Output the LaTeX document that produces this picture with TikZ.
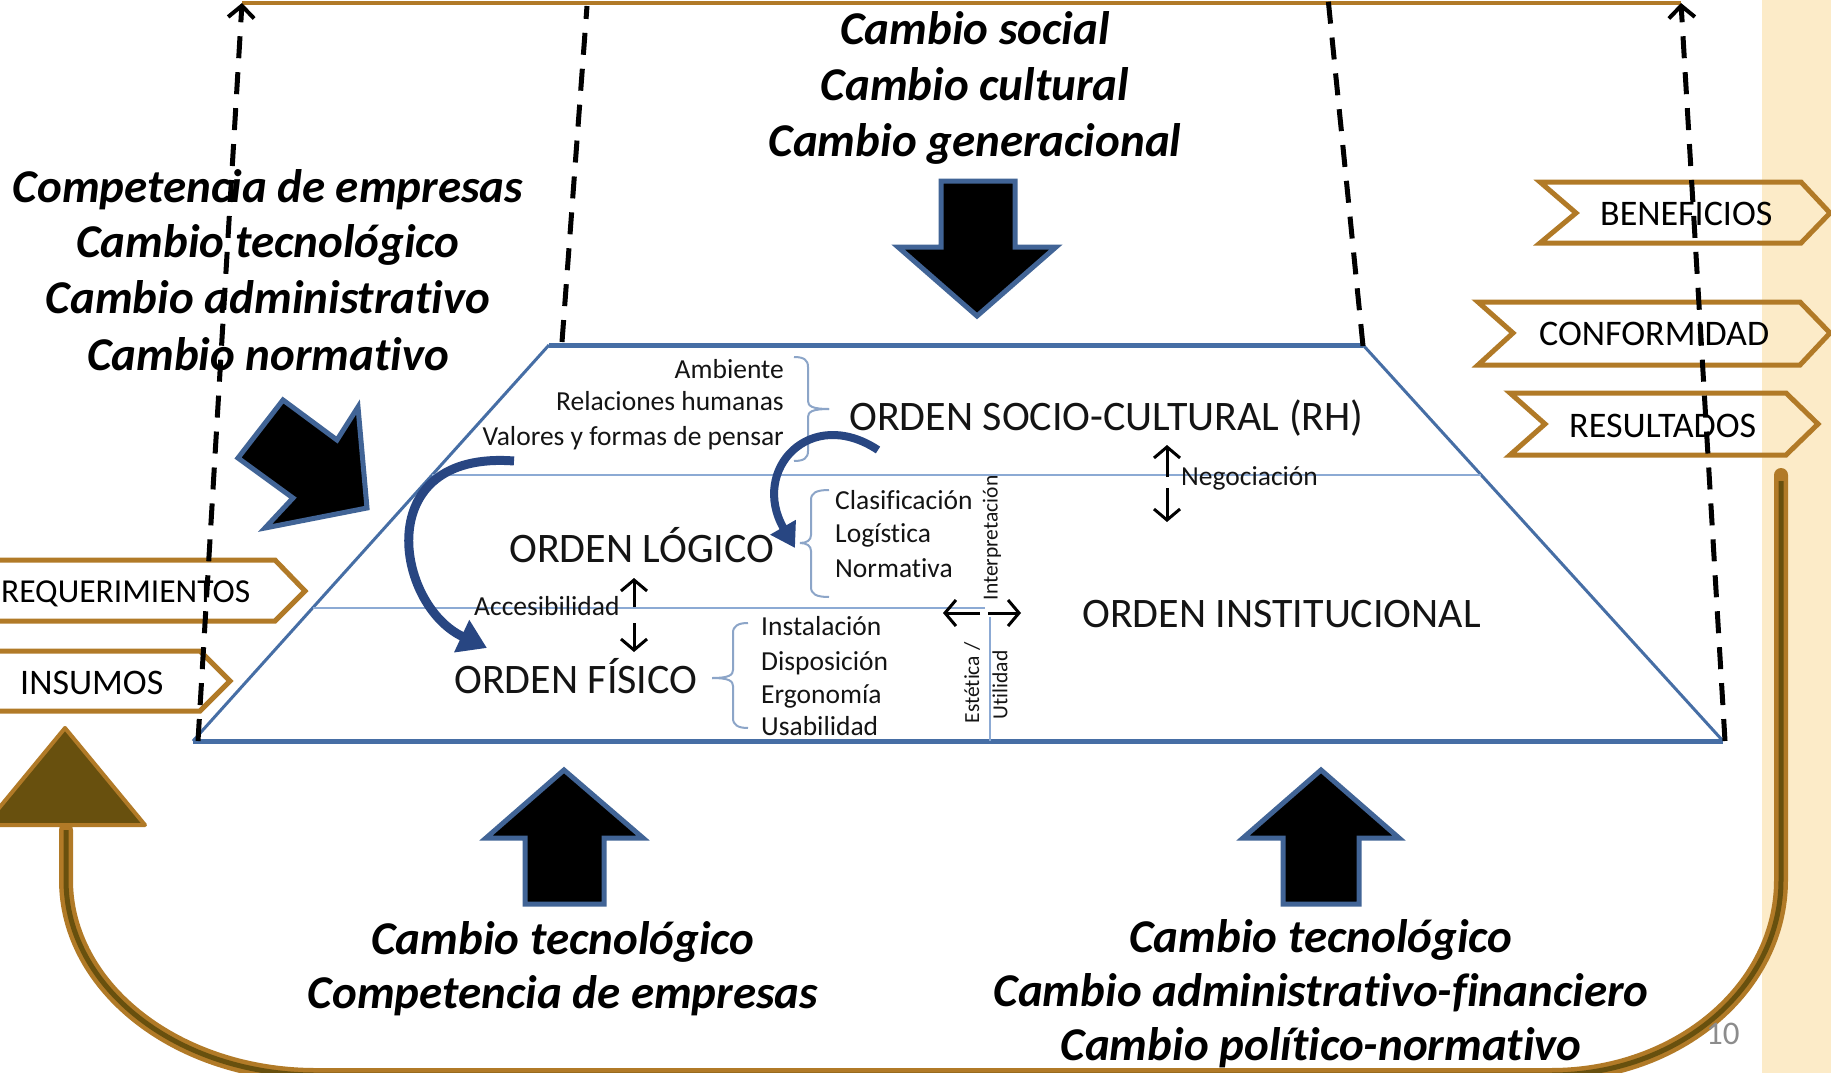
\documentclass[tikz,border=0pt]{standalone}
\usepackage{fontspec}
\setmainfont{Carlito}[Ligatures=NoCommon]
\usetikzlibrary{arrows.meta}
\definecolor{brn}{RGB}{177,122,39}
\definecolor{olv}{RGB}{104,80,14}
\definecolor{beig}{RGB}{252,235,200}
\definecolor{tblue}{RGB}{70,110,165}
\definecolor{lblue}{RGB}{140,170,212}
\definecolor{bblue}{RGB}{140,165,200}
\definecolor{ablue}{RGB}{65,100,150}
\definecolor{cblue}{RGB}{40,70,130}
\definecolor{ink}{RGB}{20,20,20}
\definecolor{pgnum}{RGB}{140,140,140}
\begin{document}
\begin{tikzpicture}[x=1pt,y=-1pt,
  cambio/.style={font=\fontsize{47}{55}\selectfont\bfseries\itshape, anchor=base, inner sep=0pt, text=black},
  orden/.style={font=\fontsize{42}{50}\selectfont, anchor=base west, inner sep=0pt, text=ink},
  lbl/.style={font=\fontsize{27.5}{34}\selectfont, anchor=base west, inner sep=0pt, text=ink},
  rlbl/.style={lbl, anchor=base east},
  rot/.style={font=\fontsize{21.5}{26}\selectfont, inner sep=0pt, text=ink, rotate=90},
  chevtxt/.style={font=\fontsize{36}{42}\selectfont, anchor=base west, inner sep=0pt, text=black},
  chev/.style={draw=brn, line width=5pt, line join=miter},
  blk/.style={fill=black, draw=ablue, line width=5pt, line join=miter},
  dsh/.style={draw=black, line width=5pt, dash pattern=on 22pt off 14pt},
  dsharrow/.style={dsh, -{Straight Barb[length=12pt,width=26pt,line width=4pt]}},
  sarr/.style={draw=black, line width=3pt, -{Straight Barb[length=11pt,width=26pt,line width=3pt]}},
  thinl/.style={draw=lblue, line width=2pt},
  bracel/.style={draw=bblue, line width=2pt},
  trap/.style={draw=tblue, line join=round}
]
\useasboundingbox (0,0) rectangle (1831,1073);
\clip (0,0) rectangle (1831,1073);
\fill[white] (0,0) rectangle (1831,1073);
\fill[beig] (1762,0) rectangle (1831,1073);

% top brown line
\coordinate (topL) at (242,3);
\coordinate (topR) at (1681,3);
\draw[brn, line width=4pt] (topL) -- (topR);

% big U arrow
\draw[brn, line width=14pt, line cap=round] (1781,475) -- (1781,880) .. controls (1781,988) and (1678,1075) .. (1551,1075) -- (316,1075) .. controls (178,1075) and (66,988) .. (66,880) -- (66,830);
\draw[olv, line width=5pt] (1781,481) -- (1781,880) .. controls (1781,988) and (1678,1075) .. (1551,1075) -- (316,1075) .. controls (178,1075) and (66,988) .. (66,880) -- (66,830);
\draw[fill=olv, draw=brn, line width=4pt, line join=round] (-15,825) -- (145,825) -- (65,728) -- cycle;

% trapezoid
\coordinate (TL) at (549,345);
\coordinate (TR) at (1363,345);
\coordinate (BR) at (1723,741);
\coordinate (BL) at (193,741);
\draw[trap, line width=3pt] (TL) -- (BL);
\draw[trap, line width=3pt] (TR) -- (BR);
\draw[trap, line width=5pt] (TL) -- (TR);
\draw[trap, line width=5pt] (BL) -- (BR);
\draw[thinl] (432,475) -- (1481,475);
\draw[thinl] (313,608) -- (985,608);
\draw[thinl] (990,617) -- (990,741);

% braces
\draw[bracel] (794,357) .. controls (804,357) and (808,360) .. (808,367) -- (808,401) .. controls (808,406) and (812,409) .. (829,409);
\draw[bracel] (794,461) .. controls (804,461) and (808,458) .. (808,451) -- (808,417) .. controls (808,412) and (812,409) .. (829,409);
\draw[bracel] (829,490) .. controls (816,490) and (811,493) .. (811,500) -- (811,535) .. controls (811,540) and (807,543) .. (800,543);
\draw[bracel] (829,597) .. controls (816,597) and (811,594) .. (811,587) -- (811,551) .. controls (811,546) and (807,543) .. (800,543);
\draw[bracel] (748,623) .. controls (738,623) and (733,626) .. (733,633) -- (733,670) .. controls (733,675) and (729,678) .. (712,678);
\draw[bracel] (748,728) .. controls (738,728) and (733,725) .. (733,718) -- (733,686) .. controls (733,681) and (729,678) .. (712,678);

% texts inside
\node[rlbl] (amb) at (784,378) {Ambiente};
\node[rlbl] (rel) at (784,410) {Relaciones humanas};
\node[rlbl] (val) at (784,445) {Valores y formas de pensar};
\node[orden] (osc) at (849,430) {ORDEN SOCIO-CULTURAL (RH)};
\node[orden] (olog) at (509,562) {ORDEN LÓGICO};
\node[lbl] (cla) at (835,509) {Clasificación};
\node[lbl] (logi) at (835,542) {Logística};
\node[lbl] (norm) at (835,577) {Normativa};
\node[orden] (oins) at (1082,627) {ORDEN INSTITUCIONAL};
\node[orden] (ofis) at (454,693) {ORDEN FÍSICO};
\node[lbl] (inst) at (761,635) {Instalación};
\node[lbl] (disp) at (761,670) {Disposición};
\node[lbl] (ergo) at (761,703) {Ergonomía};
\node[lbl] (usab) at (761,735) {Usabilidad};
\node[lbl] (acc) at (474,615) {Accesibilidad};
\node[lbl] (neg) at (1181,485) {Negociación};
\node[rot] (interp) at (992,538) {Interpretación};
\node[rot] (este) at (972,683) {Estética /};
\node[rot] (util) at (1000,685) {Utilidad};

% small double arrows
\coordinate (n1) at (1167,477); \coordinate (n2) at (1167,445);
\coordinate (n3) at (1167,488); \coordinate (n4) at (1167,522);
\draw[sarr] (n1) -- (n2);
\draw[sarr] (n3) -- (n4);
\coordinate (a1) at (634,607); \coordinate (a2) at (634,578);
\coordinate (a3) at (634,623); \coordinate (a4) at (634,652);
\draw[sarr] (a1) -- (a2);
\draw[sarr] (a3) -- (a4);
\coordinate (h1) at (980,613); \coordinate (h2) at (943,613);
\coordinate (h3) at (988,613); \coordinate (h4) at (1021,613);
\draw[sarr] (h1) -- (h2);
\draw[sarr] (h3) -- (h4);

% curved blue arrows
\draw[cblue, line width=9pt, -{Triangle[length=28pt,width=34pt]}] (514,461) .. controls (370,450) and (395,605) .. (487,648);
\draw[cblue, line width=8pt, -{Triangle[length=24pt,width=28pt]}] (878,450) .. controls (810,405) and (750,470) .. (795,548);

% block arrows
\draw[blk] (941,181) -- (1015,181) -- (1015,247) -- (1056,247) -- (977,316) -- (898,247) -- (941,247) -- cycle;
\draw[blk] (564,770) -- (643,838) -- (604,838) -- (604,904) -- (525,904) -- (525,838) -- (486,838) -- cycle;
\draw[blk] (1321,770) -- (1399,838) -- (1359,838) -- (1359,904) -- (1283,904) -- (1283,838) -- (1243,838) -- cycle;
\draw[blk] (283,400) -- (337,440) -- (358,407) -- (367,508) -- (265,528) -- (293,498) -- (238,458) -- cycle;

% Cambio texts
\node[cambio] (cs) at (975,45) {Cambio social};
\node[cambio] (cc) at (975,100) {Cambio cultural};
\node[cambio] (cg) at (975,156) {Cambio generacional};
\node[cambio] (l1) at (268,202) {Competencia de empresas};
\node[cambio] (l2) at (268,257) {Cambio tecnológico};
\node[cambio] (l3) at (268,313) {Cambio administrativo};
\node[cambio] (l4) at (268,370) {Cambio normativo};
\node[cambio] (b1) at (563,954) {Cambio tecnológico};
\node[cambio] (b2) at (563,1008) {Competencia de empresas};
\node[cambio] (r1) at (1321,952) {Cambio tecnológico};
\node[cambio] (r2) at (1321,1006) {Cambio administrativo-financiero};
\node[cambio] (r3) at (1321,1060) {Cambio político-normativo};

% chevrons
\draw[chev] (1540,182) -- (1801,182) -- (1830,213) -- (1801,243) -- (1540,243) -- (1576,213) -- cycle;
\node[chevtxt] (ben) at (1600,225) {BENEFICIOS};
\draw[chev] (1478,302) -- (1800,302) -- (1830,333) -- (1800,365) -- (1478,365) -- (1513,333) -- cycle;
\node[chevtxt] (conf) at (1539,345) {CONFORMIDAD};
\draw[chev] (1510,393) -- (1786,393) -- (1818,424) -- (1786,455) -- (1510,455) -- (1545,424) -- cycle;
\node[chevtxt] (res) at (1569,437) {RESULTADOS};
\draw[chev] (-20,560) -- (275,560) -- (305,591) -- (275,621) -- (-20,621) -- cycle;
\node[chevtxt, font=\fontsize{33.5}{40}\selectfont] (req) at (1,602) {REQUERIMIENTOS};
\draw[chev] (-20,651) -- (200,651) -- (230,681) -- (200,711) -- (-20,711) -- cycle;
\node[chevtxt] (insu) at (20,694) {INSUMOS};

% dashed lines
\coordinate (dl) at (198,741);
\coordinate (dr) at (1725,741);
\draw[dsharrow] (dl) -- (topL);
\draw[dsharrow] (dr) -- (topR);
\coordinate (pl1) at (562,342); \coordinate (pl2) at (587,6);
\coordinate (pr1) at (1363,346); \coordinate (pr2) at (1328,-2);
\draw[dsh] (pl1) -- (pl2);
\draw[dsh] (pr1) -- (pr2);

% page number
\node[font=\fontsize{33}{40}\selectfont, text=pgnum, anchor=base west, inner sep=0pt] (pg) at (1706,1044) {10};
\end{tikzpicture}
\end{document}
